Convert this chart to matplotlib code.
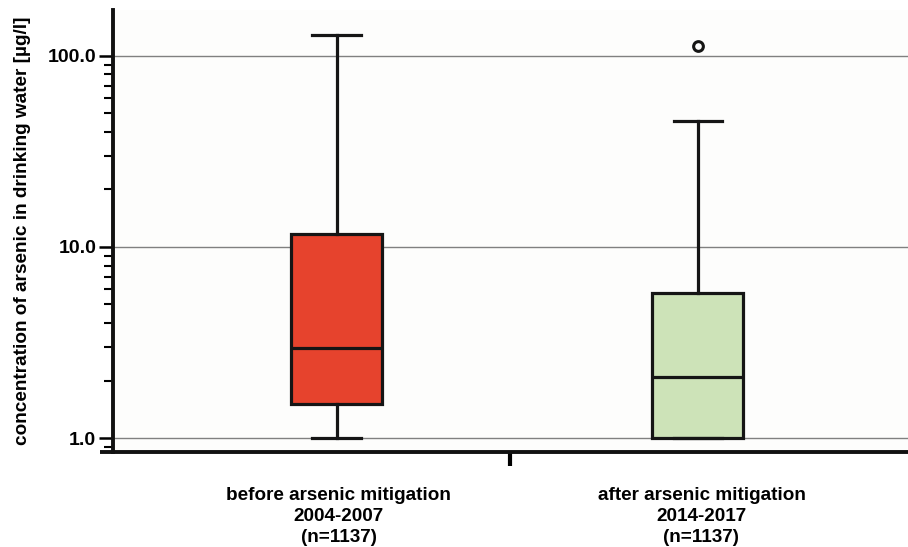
import numpy as np
import matplotlib
matplotlib.use("Agg")
import matplotlib.pyplot as plt
from matplotlib.ticker import LogLocator, FixedLocator, NullFormatter

plt.rcParams['font.family'] = ['Liberation Sans Narrow', 'Liberation Sans', 'DejaVu Sans']

# box statistics (µg/l)
groups = ['before arsenic mitigation\n2004-2007\n(n=1137)',
          'after arsenic mitigation\n2014-2017\n(n=1137)']
whislo = [1.0, 1.0]
q1 = [1.51, 1.0]
med = [2.96, 2.09]
q3 = [11.7, 5.75]
whishi = [129.0, 45.7]
fliers = [[], [113.0]]
colors = ['#e6432d', '#cde3b8']

stats = []
for i in range(len(groups)):
    stats.append(dict(whislo=whislo[i], q1=q1[i], med=med[i], q3=q3[i],
                      whishi=whishi[i], fliers=fliers[i]))

fig = plt.figure(figsize=(9.08, 5.47), dpi=100)
ax = fig.add_axes([113 / 908, 95 / 547, 795 / 908, 442 / 547])
ax.set_facecolor('#fdfdfc')

lw = 2.3
bp = ax.bxp(stats, positions=[1, 2], widths=0.252, patch_artist=True,
            boxprops=dict(linewidth=lw, edgecolor='#151515'),
            medianprops=dict(linewidth=lw, color='#151515'),
            whiskerprops=dict(linewidth=lw, color='#151515'),
            capprops=dict(linewidth=lw, color='#151515'),
            flierprops=dict(marker='o', markersize=7, markerfacecolor='none',
                            markeredgecolor='#151515', markeredgewidth=2.2),
            capwidths=0.135, zorder=3)
for patch, c in zip(bp['boxes'], colors):
    patch.set_facecolor(c)

ax.set_yscale('log')
ax.set_ylim(0.845, 174)
ax.set_xlim(0.38, 2.582)

ax.yaxis.set_major_locator(FixedLocator([1, 10, 100]))
ax.set_yticklabels(['1.0', '10.0', '100.0'], fontsize=14, fontweight='bold')
ax.yaxis.set_minor_locator(LogLocator(base=10, subs=np.arange(2, 10)))
ax.yaxis.set_minor_formatter(NullFormatter())
ax.tick_params(axis='y', which='major', length=10, width=1.8, pad=2)
ax.tick_params(axis='y', which='minor', length=6.5, width=1.5)
ax.grid(axis='y', which='major', color='#808080', linewidth=1.0, zorder=0)

ax.set_xticks([1.48])
ax.set_xticklabels([''])
ax.tick_params(axis='x', length=10, width=3)

for s in ['top', 'right']:
    ax.spines[s].set_visible(False)
for s in ['left', 'bottom']:
    ax.spines[s].set_linewidth(2.8)
    ax.spines[s].set_color('#111111')
ax.plot([-13 / 795, 0], [0, 0], transform=ax.transAxes, color='#111111',
        linewidth=2.8, clip_on=False, solid_capstyle='butt')

ax.set_ylabel('concentration of arsenic in drinking water [µg/l]',
              fontsize=13.7, fontweight='bold', labelpad=12)

label_x = [1.005, 2.01]
for x, g in zip(label_x, groups):
    ax.text(x, -0.08, g, transform=ax.get_xaxis_transform(), ha='center',
            va='top', fontsize=13.6, fontweight='bold', linespacing=1.3)

fig.savefig('out.png', dpi=100)
